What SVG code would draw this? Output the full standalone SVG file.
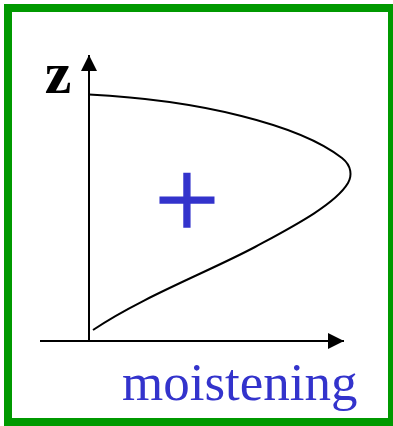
<svg xmlns="http://www.w3.org/2000/svg" width="393" height="426" viewBox="0 0 393 426">
  <defs>
    <marker id="ah" viewBox="0 0 16 16" refX="16" refY="8" markerWidth="16" markerHeight="16" markerUnits="userSpaceOnUse" orient="auto">
      <path d="M0,0 L16,8 L0,16 Z" fill="#000"/>
    </marker>
  </defs>
  <style>
    .axis{stroke:#000;stroke-width:2;fill:none}
    .blue{fill:#3333cc;font-family:"Liberation Serif",serif}
  </style>
  <rect x="8" y="8" width="384" height="414" fill="#fff" stroke="#009900" stroke-width="8"/>
  <g id="axes">
    <line class="axis" x1="89" y1="341" x2="89" y2="55" marker-end="url(#ah)"/>
    <line class="axis" x1="40" y1="341" x2="344" y2="341" marker-end="url(#ah)"/>
  </g>
  <g id="curve">
    <path d="M89,94.5 C200,100 300,125 342,158 C352,166 352,176 348,183 C335,205 290,228 255,247 C210,271 140,298 93,330" fill="none" stroke="#000" stroke-width="2"/>
  </g>
  <text x="58" y="93" font-family="Liberation Serif,serif" font-weight="bold" font-size="60" text-anchor="middle">z</text>
  <text class="blue" x="187" y="237.5" font-size="115" stroke="#3333cc" stroke-width="1.5" text-anchor="middle">+</text>
  <text class="blue" x="122" y="400" font-size="53">moistening</text>
</svg>
